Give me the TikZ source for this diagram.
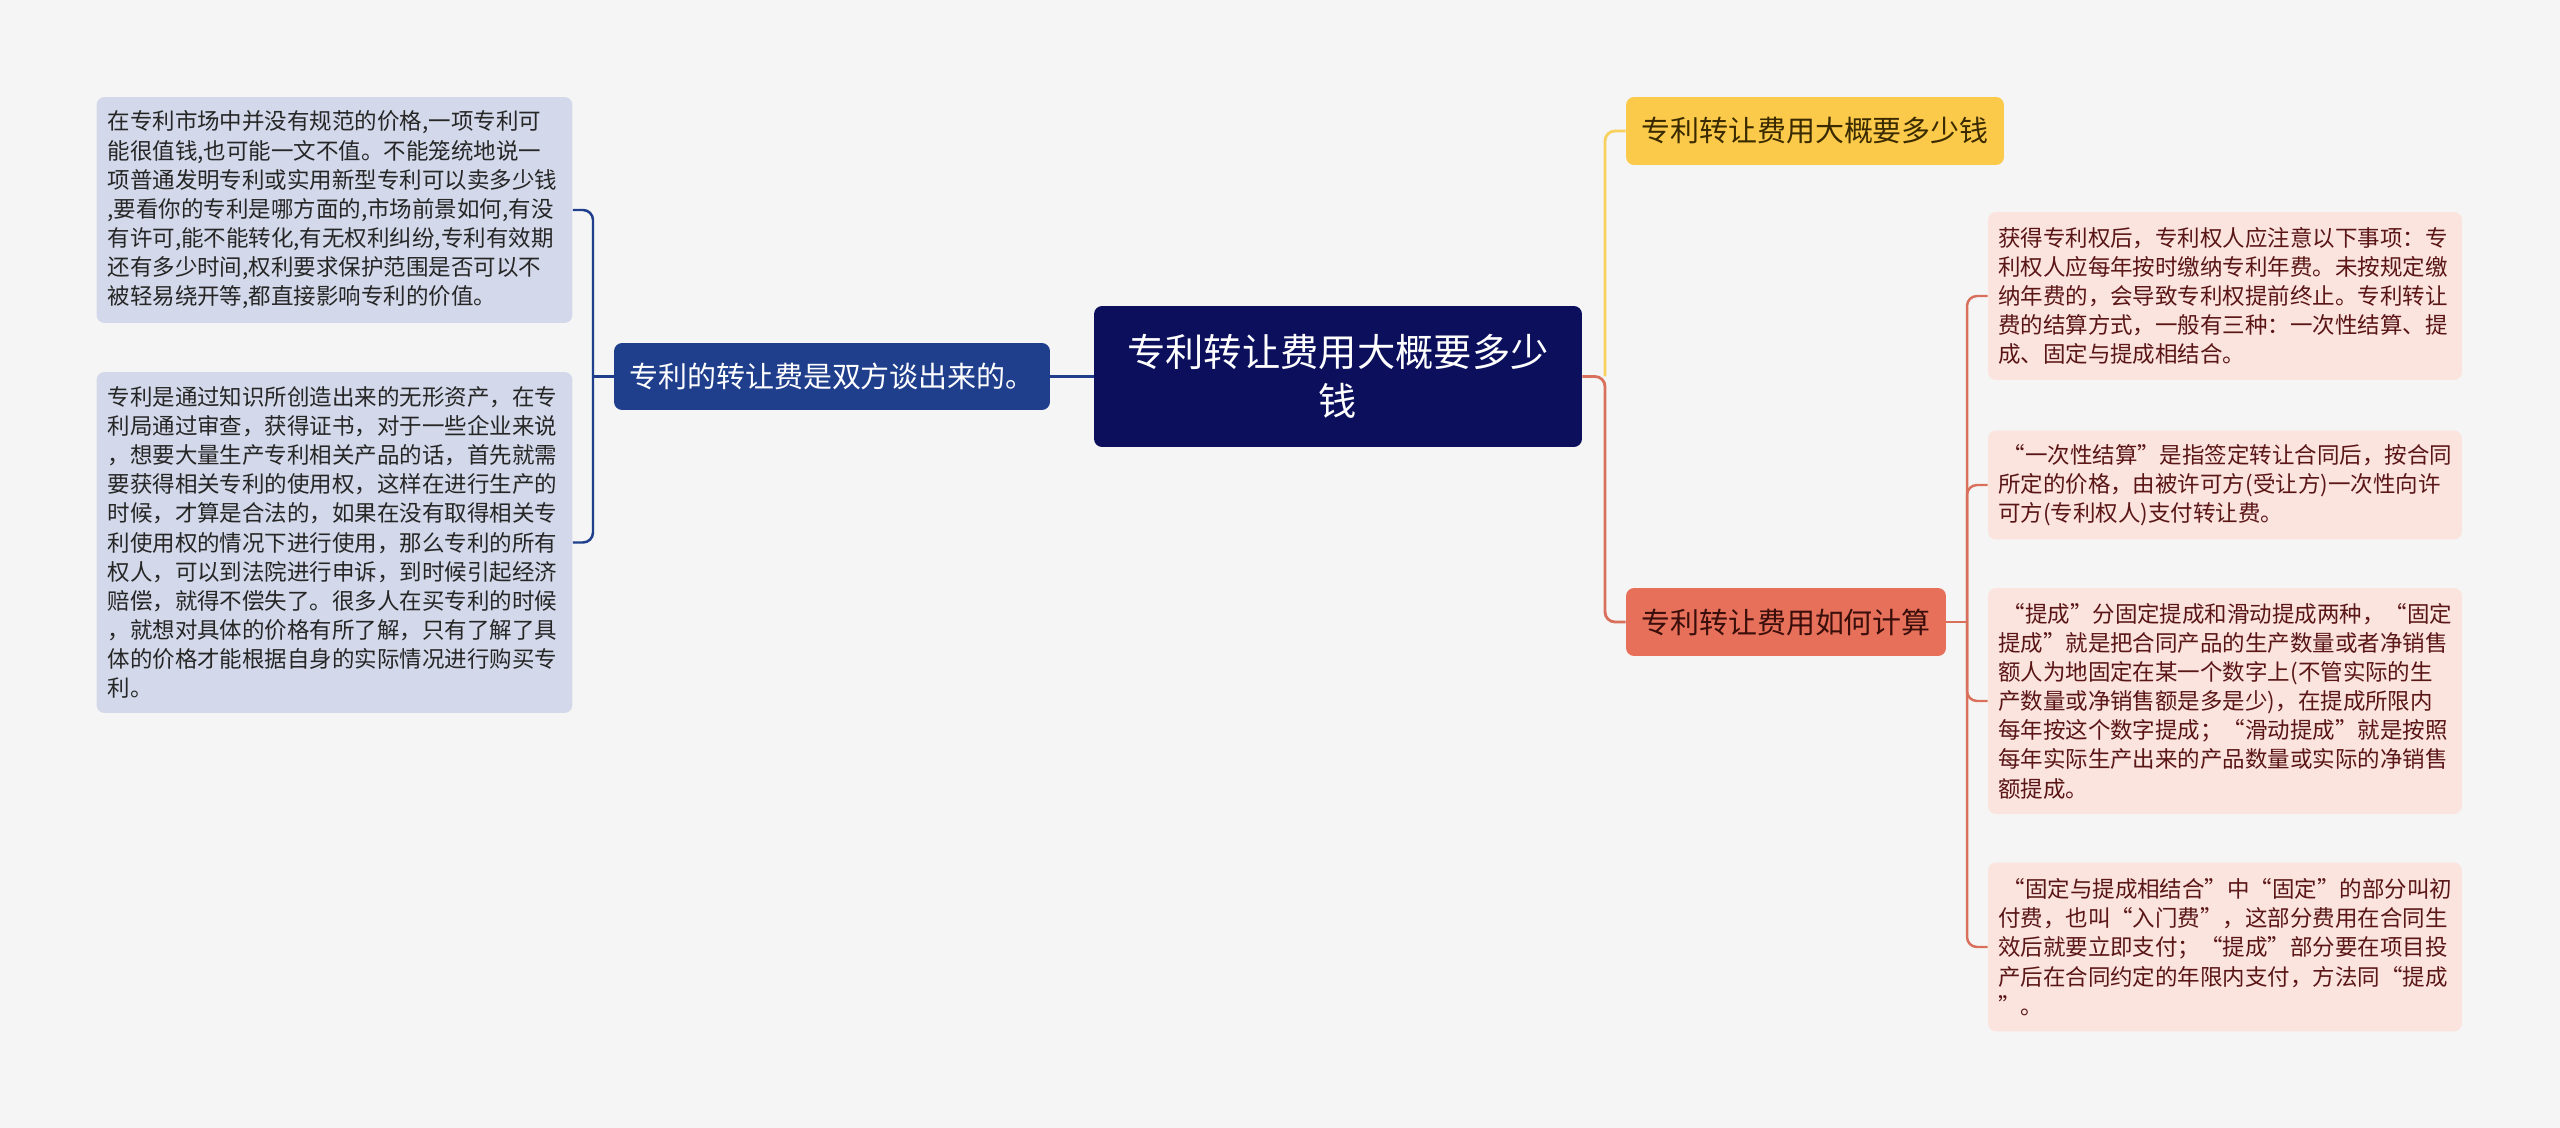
\documentclass[tikz,border=0pt]{standalone}
\usepackage{fontspec}
\setmainfont{Noto Sans CJK SC}
\definecolor{bgc}{HTML}{F5F5F5}
\definecolor{navy}{HTML}{0B0F5C}
\definecolor{lblue}{HTML}{1F3F8C}
\definecolor{lleaf}{HTML}{D3D9EA}
\definecolor{ltext}{HTML}{262626}
\definecolor{ybox}{HTML}{FCCA4A}
\definecolor{yline}{HTML}{F7D05E}
\definecolor{ytext}{HTML}{3A2A00}
\definecolor{obox}{HTML}{E6705A}
\definecolor{oline}{HTML}{D9705C}
\definecolor{otext}{HTML}{3A0E0A}
\definecolor{rleaf}{HTML}{FBE3DE}
\definecolor{rtext}{HTML}{5A1616}
\tikzset{
  leaf/.style={rounded corners=0.16cm, inner xsep=0.2cm, inner ysep=0pt,
    text width=9.08cm, align=left, font=\fontsize{12.8}{16.6}\selectfont},
  lleafbox/.style={leaf, fill=lleaf, text=ltext, minimum width=9.52cm},
  rleafbox/.style={leaf, fill=rleaf, text=rtext, text width=9.08cm},
  mainbox/.style={rounded corners=0.16cm, inner sep=0pt, align=center,
    font=\fontsize{16.5}{20}\selectfont},
  lnk/.style={line width=1.6pt, rounded corners=0.2cm},
  sublnk/.style={line width=1.4pt, rounded corners=0.2cm}
}
\begin{document}
\begin{tikzpicture}[x=0.02cm,y=-0.02cm]
\fill[bgc](0,0)rectangle(2560,1128);

\node[mainbox, fill=navy, text=white, minimum width=9.76cm, minimum height=2.82cm,
  font=\fontsize{21.8}{27.9}\selectfont](root)at(1338,376.5){专利转让费用大概要多少\\钱};

\node[mainbox, fill=lblue, text=white, minimum width=8.72cm, minimum height=1.34cm](lmain)at(832,376.5){专利的转让费是双方谈出来的。};
\node[lleafbox, minimum height=4.52cm](l1)at(334.5,210){在专利市场中并没有规范的价格,一项专利可\\能很值钱,也可能一文不值。不能笼统地说一\\项普通发明专利或实用新型专利可以卖多少钱\\,要看你的专利是哪方面的,市场前景如何,有没\\有许可,能不能转化,有无权利纠纷,专利有效期\\还有多少时间,权利要求保护范围是否可以不\\被轻易绕开等,都直接影响专利的价值。};
\node[lleafbox, minimum height=6.82cm](l2)at(334.5,542.5){专利是通过知识所创造出来的无形资产，在专\\利局通过审查，获得证书，对于一些企业来说\\，想要大量生产专利相关产品的话，首先就需\\要获得相关专利的使用权，这样在进行生产的\\时候，才算是合法的，如果在没有取得相关专\\利使用权的情况下进行使用，那么专利的所有\\权人，可以到法院进行申诉，到时候引起经济\\赔偿，就得不偿失了。很多人在买专利的时候\\，就想对具体的价格有所了解，只有了解了具\\体的价格才能根据自身的实际情况进行购买专\\利。};

\node[mainbox, fill=ybox, text=ytext, minimum width=7.56cm, minimum height=1.36cm](r1)at(1815,131){专利转让费用大概要多少钱};
\node[mainbox, fill=obox, text=otext, minimum width=6.4cm, minimum height=1.36cm](r2)at(1786,622){专利转让费用如何计算};

\node[rleafbox, minimum height=3.36cm](ra)at(2225,296){获得专利权后，专利权人应注意以下事项：专\\利权人应每年按时缴纳专利年费。未按规定缴\\纳年费的，会导致专利权提前终止。专利转让\\费的结算方式，一般有三种：一次性结算、提\\成、固定与提成相结合。};
\node[rleafbox, minimum height=2.18cm](rb)at(2225,485){\hspace{0.2em}“一次性结算”是指签定转让合同后，按合同\\所定的价格，由被许可方(受让方)一次性向许\\可方(专利权人)支付转让费。};
\node[rleafbox, minimum height=4.52cm](rc)at(2225,701){\hspace{0.2em}“提成”分固定提成和滑动提成两种，“固定\\提成”就是把合同产品的生产数量或者净销售\\额人为地固定在某一个数字上(不管实际的生\\产数量或净销售额是多是少)，在提成所限内\\每年按这个数字提成；“滑动提成”就是按照\\每年实际生产出来的产品数量或实际的净销售\\额提成。};
\node[rleafbox, minimum height=3.38cm](rd)at(2225,947){\hspace{0.2em}“固定与提成相结合”中“固定”的部分叫初\\付费，也叫“入门费”，这部分费用在合同生\\效后就要立即支付；“提成”部分要在项目投\\产后在合同约定的年限内支付，方法同“提成\\”。};

\coordinate(bl)at(593,376.5);
\coordinate(br)at(1605,376.5);
\coordinate(bc)at(1967,622);

\draw[lnk,lblue](root.west)--(lmain.east);
\draw[sublnk,lblue](lmain.west)--(bl);
\draw[sublnk,lblue](l1.east)-|(bl)|-(l2.east);

\draw[lnk,yline](br)|-(r1.west);
\draw[lnk,oline](root.east)--(br)|-(r2.west);

\draw[sublnk,oline](r2.east)--(bc);
\draw[sublnk,oline](bc)|-(ra.west);
\draw[sublnk,oline](bc)|-(rb.west);
\draw[sublnk,oline](bc)|-(rc.west);
\draw[sublnk,oline](bc)|-(rd.west);

\end{tikzpicture}
\end{document}
